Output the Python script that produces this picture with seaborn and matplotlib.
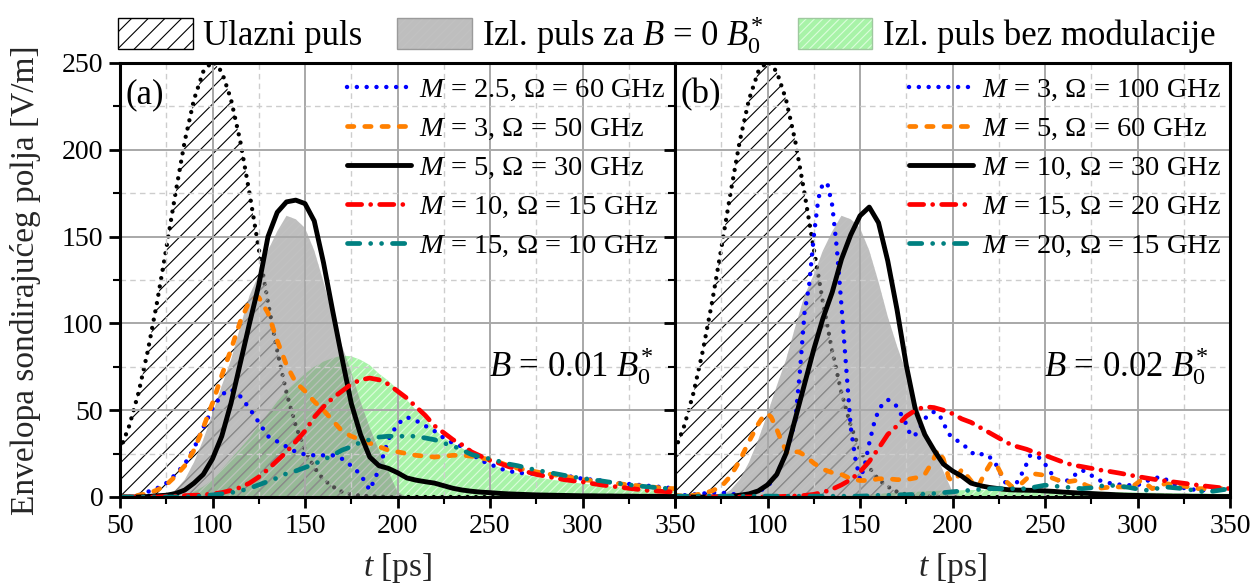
import matplotlib
matplotlib.use("Agg")
import matplotlib.pyplot as plt
from matplotlib.lines import Line2D
from matplotlib.patches import Patch
from matplotlib.legend_handler import HandlerTuple
from matplotlib.ticker import MultipleLocator
import seaborn as sns

# ---------------------------------------------------------------- data
# common time axis [ps]
t_ps = list(range(50, 355, 5))

# input pulse and output pulse for B = 0 (same in both panels)
input_pulse = [27, 41, 60, 84, 112, 143, 175, 205, 229, 245,
               251, 245, 229, 205, 175, 143, 112, 84, 60, 41,
               27, 17, 10, 6, 3, 1.5, 0.8, 0.4, 0.2, 0,
               0, 0, 0, 0, 0, 0, 0, 0, 0, 0,
               0, 0, 0, 0, 0, 0, 0, 0, 0, 0,
               0, 0, 0, 0, 0, 0, 0, 0, 0, 0,
               0]
out_b0 = [0, 0, 0, 0, 0, 1, 4, 10, 20, 33,
          48, 64, 79, 98, 116, 128, 142, 153, 162, 160,
          155, 142, 124, 104, 87, 72, 55, 40, 27, 15,
          3, 0, 0, 0, 0, 0, 0, 0, 0, 0,
          0, 0, 0, 0, 0, 0, 0, 0, 0, 0,
          0, 0, 0, 0, 0, 0, 0, 0, 0, 0,
          0]

# panel (a): B = 0.01 B0*
nomod_a = [0, 0, 0, 0, 0, 0, 0, 0, 3, 6,
           10, 16, 22, 28, 34, 41, 48, 55, 61, 66,
           71, 75, 78, 80, 81.5, 81, 79, 76, 71, 67,
           62, 56, 50, 45, 39, 34, 31, 28, 25, 22,
           19, 17, 15, 13.7, 12.5, 11.5, 10.5, 9.7, 9, 8.3,
           7.7, 7.1, 6.5, 6, 5.5, 5, 4.5, 4.1, 3.8, 3.5,
           3.3]
a_m2p5 = [0, 0, 1, 3, 5, 8, 13, 19, 28, 40,
          51, 59, 62, 58, 51, 43, 35, 32, 29, 26,
          24.5, 24, 24, 24, 22, 18, 13, 4, 16, 33,
          42, 46, 44, 41, 38, 34, 31, 29, 25, 21,
          19, 16.5, 15, 14, 13.5, 13.5, 13, 12.8, 12.5, 11.5,
          10.5, 10, 9.5, 8.5, 8, 7.5, 7, 6.5, 6, 5.5,
          4.8]
a_m3 = [0, 0, 1, 2, 4, 7, 12, 18, 27, 40,
        54, 70, 85, 101, 113, 115, 106, 90, 76, 66,
        61, 55, 50, 44, 38, 35, 33, 31, 29, 27,
        26, 25, 24, 23.5, 23, 23.5, 24, 24, 23.5, 22.5,
        21.5, 20, 18, 16.5, 15.5, 14.5, 13.5, 12.7, 12, 11,
        10, 9.5, 8.8, 8.2, 7.6, 7, 6.5, 6, 5.5, 5,
        4.8]
a_m5 = [0, 0, 0, 0.3, 0.7, 1, 2, 4, 8, 13,
        22, 35, 54, 77, 100, 122, 150, 164, 170, 171,
        169, 159, 135, 107, 80, 54, 36, 23, 18, 16.5,
        14, 11, 9.7, 8.8, 8, 6.5, 5, 4, 3.3, 2.8,
        2.5, 2.1, 1.8, 1.6, 1.4, 1.2, 1.1, 1, 0.9, 0.8,
        0.7, 0.7, 0.6, 0.6, 0.5, 0.5, 0.4, 0.4, 0.4, 0.3,
        0.3]
a_m10 = [0, 0, 0, 0, 0, 0.3, 0.5, 0.8, 1, 1.2,
         1.8, 2.5, 3.8, 5.5, 8, 11.5, 16, 21, 26, 32,
         38, 46, 52, 57, 61, 65, 67.5, 68.5, 67.5, 65,
         61, 57, 52, 47, 41, 37, 33, 30, 26, 23.5,
         21, 19.5, 17.5, 16, 14.5, 13, 12, 11, 10, 9.3,
         8.7, 7.8, 7, 6.3, 5.7, 5, 4.4, 3.8, 3.4, 3.1,
         2.9]
a_m15 = [0, 0, 0, 0, 0, 0, 0, 0, 0.3, 0.7,
         1.2, 1.8, 2.5, 3.5, 5, 7, 9, 11, 13.5, 15,
         17, 19, 21.5, 24, 27, 29, 31.5, 33, 34.5, 35,
         35, 35, 35, 34, 33, 31, 29.5, 27, 24.5, 23,
         22, 20.5, 19, 18, 16.7, 15.5, 14.5, 13.5, 12.5, 11.5,
         10.8, 10, 9.3, 8.5, 7.7, 7, 6.4, 5.9, 5.4, 5,
         4.8]

# panel (b): B = 0.02 B0*
nomod_b = [0, 0, 0, 0, 0, 0, 0, 0, 0, 0,
           0, 0, 0, 0, 0, 0, 0.2, 0.4, 0.6, 0.8,
           1, 1.4, 1.8, 2.2, 2.5, 2.8, 3, 3.3, 3.5, 3.7,
           3.8, 3.9, 4, 4, 4, 4, 4, 3.9, 3.8, 3.7,
           3.6, 3.5, 3.4, 3.3, 3.2, 3.1, 3, 2.9, 2.8, 2.7,
           2.6, 2.5, 2.4, 2.3, 2.2, 2.1, 2, 2, 1.9, 1.9,
           1.8]
b_m3_t = [50, 55, 60, 65, 70, 75, 80, 85, 90, 95, 100, 105, 110,
          112.5, 115, 117.5, 120, 122.5, 125, 127.5, 130, 132.5, 135,
          137.5, 140, 142.5, 145, 147.5, 150, 152.5, 155, 157.5, 160,
          162.5, 165, 167.5, 170, 172.5, 175, 177.5, 180, 182.5, 185,
          187.5, 190, 192.5, 195, 197.5, 200,
          205, 210, 212.5, 217.5, 220, 222.5, 225, 228.5, 232, 235.5,
          239, 242, 246.5, 250, 253.5, 257, 261, 266, 270, 273.5,
          279, 286, 293, 300, 308, 313, 319, 326, 333.5, 340.5, 350]
b_m3 = [0.5, 1, 1.5, 2, 2.5, 2.5, 2, 1, 1.5, 3, 6, 13, 25,
        34, 44, 72, 106, 122, 150, 172, 181, 180, 168,
        143, 110, 75, 40, 22, 10, 18, 31, 42, 50,
        54, 56, 55, 52, 47, 42, 35, 36, 40, 45,
        48, 49, 48, 43, 37, 34,
        31, 26, 24, 25, 23, 21, 15.5, 8.5, 4, 9.5,
        16.5, 24, 23, 19, 13.5, 9.7, 8.7, 12.6, 15.5, 13.5,
        9.7, 7.7, 6.8, 6.8, 10.6, 11.6, 7.7, 4.8, 3.9, 3.9, 4.8]
b_m5_t = [50, 55, 60, 65, 70, 75, 80, 85, 90, 95,
          98, 100, 102, 105, 108, 111, 114, 117, 120,
          125, 130, 135, 140, 145, 150, 155, 160, 165, 170, 175, 180, 185,
          189, 192, 195, 198, 200, 203, 205, 208, 211, 214,
          217, 221, 224, 228, 232, 237, 243, 250, 257, 262,
          268, 272, 277, 286, 297, 302, 308, 315, 322, 333, 350]
b_m5 = [1, 0.5, 1, 2, 3.5, 6, 12, 21, 32, 42,
        47, 48, 46, 39, 31, 25, 26, 26, 24,
        19.5, 16, 14, 13, 10.5, 9.5, 9.5, 10.5, 10.5, 10, 10, 11, 13,
        20, 27, 22, 11, 9, 12, 16, 12, 8, 6,
        13, 20, 18, 10, 6, 7.5, 13.5, 12.5, 9.7, 8.7,
        9.7, 6.8, 4.8, 5.8, 5.8, 9.7, 4.8, 7.7, 6.8, 4.8, 4.8]
b_m10 = [0, 0, 0, 0, 0, 0.2, 0.4, 1, 1.8, 3.5,
         7, 13, 25, 45, 65, 85, 103, 118, 137, 151,
         162, 167, 158, 136, 108, 76, 50, 36, 27, 19,
         15, 12, 8, 6.5, 5.5, 4.8, 4.2, 4, 3.9, 3.8,
         3.5, 3.2, 2.8, 2.5, 2.2, 2, 1.7, 1.5, 1.2, 1,
         0.9, 0.8, 0.7, 0.6, 0.5, 0.5, 0.4, 0.4, 0.3, 0.3,
         0.3]
b_m15 = [0, 0, 0, 0, 0, 0, 0, 0, 0, 0,
         0, 0.2, 0.4, 0.6, 0.9, 1.5, 2.7, 4.5, 7, 10,
         14.5, 20.5, 28, 36, 41, 46.5, 50, 52, 51.5, 50,
         48, 45, 43, 40, 37, 34, 31, 29, 27.5, 25.5,
         24, 22, 20, 18.4, 17.5, 16.5, 15.5, 14.7, 13.8, 12.8,
         11.8, 10.9, 10, 9.3, 8.6, 7.9, 7.2, 6.5, 5.9, 5.3,
         4.8]
b_m20 = [0.5, 0.5, 0.5, 0.5, 0.5, 0.5, 0.5, 0.5, 0.5, 0.5,
         0.5, 0.5, 0.5, 0.5, 0.5, 0.5, 0.5, 0.5, 0.5, 0.5,
         0.5, 0.7, 1, 1, 1.2, 1.3, 1.5, 1.7, 2, 2.5,
         3, 3.5, 3.9, 4.4, 4.8, 4.8, 4.8, 4.8, 4.8, 5.8,
         6.8, 6.3, 5.8, 5.3, 4.8, 5.3, 6.3, 6.8, 6.2, 5.6,
         4.6, 3.9, 4.8, 5.8, 5.3, 4.8, 3.9, 3.1, 3.2, 4,
         4.8]

labels_a = ["$M$ = 2.5, Ω = 60 GHz", "$M$ = 3, Ω = 50 GHz", "$M$ = 5, Ω = 30 GHz",
            "$M$ = 10, Ω = 15 GHz", "$M$ = 15, Ω = 10 GHz"]
labels_b = ["$M$ = 3, Ω = 100 GHz", "$M$ = 5, Ω = 60 GHz", "$M$ = 10, Ω = 30 GHz",
            "$M$ = 15, Ω = 20 GHz", "$M$ = 20, Ω = 15 GHz"]
legend_top = ["Ulazni puls", "Izl. puls za $B$ = 0 $B_0^{*}$", "Izl. puls bez modulacije"]
x_ticks = [50, 100, 150, 200, 250, 300, 350]
x_ticklabels_a = ["50", "100", "150", "200", "250", "300", "350"]
x_ticklabels_b = ["", "100", "150", "200", "250", "300", "350"]
y_ticks = [0, 50, 100, 150, 200, 250]

# ---------------------------------------------------------------- style
sns.set_theme(style="ticks")
plt.rcParams.update({
    "font.family": ["Liberation Serif", "DejaVu Serif"],
    "mathtext.fontset": "custom",
    "mathtext.rm": "Liberation Serif",
    "mathtext.it": "Liberation Serif:italic",
    "mathtext.bf": "Liberation Serif:bold",
    "hatch.linewidth": 0.8,
    "axes.edgecolor": "black",
    "axes.linewidth": 2.2,
    "xtick.color": "black",
    "ytick.color": "black",
    "text.color": "black",
})

LINE_STYLES = [
    dict(color="#0000ff", linewidth=3.2, linestyle=(0, (0.01, 2.2)), dash_capstyle="round"),
    dict(color="#ff8000", linewidth=3.4, linestyle=(0, (1.35, 2.3)), dash_capstyle="round"),
    dict(color="black", linewidth=3.5, linestyle="-"),
    dict(color="#ff0000", linewidth=3.4, linestyle=(0, (3.0, 1.9, 0.01, 1.9)), dash_capstyle="round"),
    dict(color="#008080", linewidth=3.4,
         linestyle=(0, (2.6, 2.3, 0.01, 2.3, 0.01, 2.3)), dash_capstyle="round"),
]
INPUT_STYLE = dict(color="black", linewidth=3.1, linestyle=(0, (0.01, 1.95)), dash_capstyle="round")

GREEN_FACE, GREEN_HATCH = "#a8f3a8", "#dcfddc"
GRAY_FACE, GRAY_HATCH, GRAY_ALPHA = "#8a8a8a", "#c4c4c4", 0.55

fig = plt.figure(figsize=(12.55, 5.85), dpi=100)
W, H = 1255, 585
ax_a = fig.add_axes([120 / W, 88 / H, 555 / W, 434 / H])
ax_b = fig.add_axes([675 / W, 88 / H, 555 / W, 434 / H], sharey=ax_a)


def draw_panel(ax, nomod, curves, labels, tag, field_text, xticklabels):
    # filled reference pulses
    ax.fill_between(t_ps, 0, nomod, facecolor=GREEN_FACE, edgecolor=GREEN_HATCH,
                    hatch="////", linewidth=0, zorder=0.8)
    ax.fill_between(t_ps, 0, input_pulse, facecolor="none", edgecolor="black",
                    hatch="//", linewidth=0, zorder=0.9)
    sns.lineplot(x=t_ps, y=input_pulse, ax=ax, zorder=0.95, **INPUT_STYLE)
    ax.fill_between(t_ps, 0, out_b0, facecolor=GRAY_FACE, edgecolor=GRAY_HATCH,
                    hatch="////", linewidth=0, alpha=GRAY_ALPHA, zorder=1.0)

    # modulated output pulses
    handles = []
    for (tx, vals), style, z in zip(curves, LINE_STYLES, [2.1, 2.2, 2.3, 2.4, 2.5]):
        sns.lineplot(x=tx, y=vals, ax=ax, zorder=z, **style)
        handles.append(Line2D([], [], **style))

    ax.set_xlim(50, 350)
    ax.set_ylim(0, 250)
    ax.set_xticks(x_ticks, xticklabels)
    ax.set_yticks(y_ticks)
    ax.xaxis.set_minor_locator(MultipleLocator(25))
    ax.yaxis.set_minor_locator(MultipleLocator(25))
    ax.tick_params(which="major", direction="out", length=8, width=2, labelsize=20, pad=4)
    ax.tick_params(which="minor", direction="out", length=5, width=1.5)
    ax.grid(which="major", color="#a8a8a8", linewidth=1.4, linestyle="-")
    ax.grid(which="minor", color="#cdcdcd", linewidth=1.0, linestyle=(0, (4, 3)))
    ax.set_axisbelow("line")
    for sp in ax.spines.values():
        sp.set_linewidth(2.2)
        sp.set_color("black")
        sp.set_zorder(3)

    ax.legend(handles, labels, loc="upper right", bbox_to_anchor=(1.009, 1.0),
              frameon=False, fontsize=20.5, handlelength=2.25, handletextpad=0.3,
              labelspacing=0.45, borderaxespad=0.3, borderpad=0.2)
    ax.text(0.01, 0.926, tag, transform=ax.transAxes, fontsize=25,
            ha="left", va="center")
    ax.text(0.96, 0.277, field_text, transform=ax.transAxes, fontsize=25,
            ha="right", va="baseline")
    ax.set_xlabel("$t$ [ps]", fontsize=24)
    ax.xaxis.set_label_coords(0.5, -0.125)


draw_panel(ax_a, nomod_a,
           [(t_ps, a_m2p5), (t_ps, a_m3), (t_ps, a_m5), (t_ps, a_m10), (t_ps, a_m15)],
           labels_a, "(a)", "$B$ = 0.01 $B_0^{*}$", x_ticklabels_a)
draw_panel(ax_b, nomod_b,
           [(b_m3_t, b_m3), (b_m5_t, b_m5), (t_ps, b_m10), (t_ps, b_m15), (t_ps, b_m20)],
           labels_b, "(b)", "$B$ = 0.02 $B_0^{*}$", x_ticklabels_b)

ax_b.tick_params(which="both", labelleft=False)
ax_a.set_ylabel("Envelopa sondirajućeg polja [V/m]", fontsize=24)
ax_a.yaxis.set_label_coords(-0.142, 0.5)

# legend for the filled pulses
top_handles = [
    Patch(facecolor="white", edgecolor="black", hatch="//", linewidth=1.0),
    (Patch(facecolor=GRAY_FACE, edgecolor=GRAY_HATCH, hatch="////", linewidth=0, alpha=GRAY_ALPHA),
     Patch(facecolor="none", edgecolor="#9a9a9a", linewidth=1.0)),
    (Patch(facecolor=GREEN_FACE, edgecolor=GREEN_HATCH, hatch="////", linewidth=0),
     Patch(facecolor="none", edgecolor="#9fc89f", linewidth=1.0)),
]
fig.legend(top_handles, legend_top, loc="upper left", bbox_to_anchor=(118 / W, 1 - 14 / H),
           ncol=3, frameon=False, fontsize=25, handlelength=2.15, handleheight=1.0,
           handletextpad=0.3, columnspacing=1.0, borderpad=0, borderaxespad=0,
           handler_map={tuple: HandlerTuple(ndivide=1, pad=0)})

fig.savefig("out.png", dpi=100)
